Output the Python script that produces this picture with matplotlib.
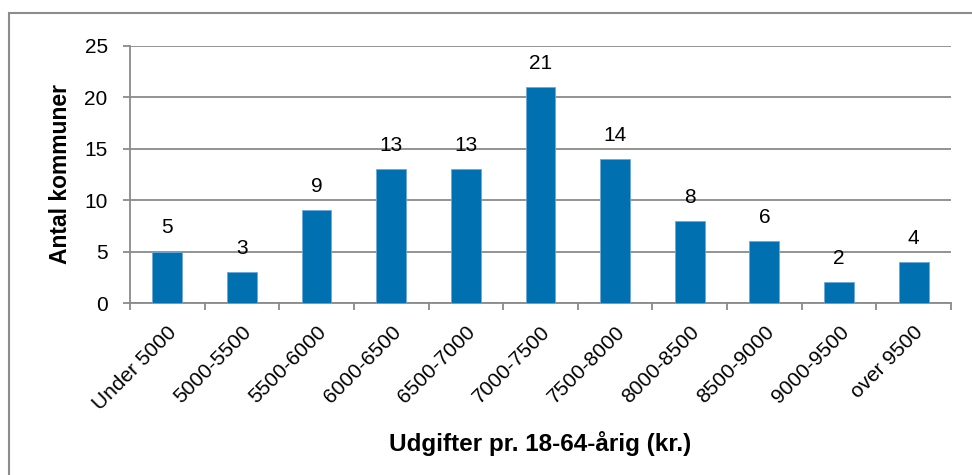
import matplotlib.pyplot as plt
from matplotlib.patches import Rectangle

plt.rcParams["font.family"] = ["Liberation Sans", "DejaVu Sans"]

# Number of municipalities per spending interval
categories = [
    "Under 5000", "5000-5500", "5500-6000", "6000-6500", "6500-7000",
    "7000-7500", "7500-8000", "8000-8500", "8500-9000", "9000-9500",
    "over 9500",
]
counts = [5, 3, 9, 13, 13, 21, 14, 8, 6, 2, 4]
y_ticks = [0, 5, 10, 15, 20, 25]

bar_color = "#0070B0"
grid_color = "#8A8A8A"

fig = plt.figure(figsize=(9.72, 4.75), dpi=100)
ax = fig.add_axes([0.1337, 0.3621, 0.9784 - 0.1337, 0.9032 - 0.3621])

x = list(range(len(categories)))
bars = ax.bar(x, counts, width=0.4, color=bar_color,
              edgecolor="#6FA8D6", linewidth=0.6, zorder=3)

for rect, val in zip(bars, counts):
    ax.annotate(str(val), (rect.get_x() + rect.get_width() / 2, val),
                xytext=(0, 17), textcoords="offset points",
                ha="center", va="center", fontsize=15)

ax.set_xlim(-0.5, len(categories) - 0.5)
ax.set_ylim(0, 25)
ax.set_yticks(y_ticks)
# tick marks sit between categories, labels at the bar centres
ax.set_xticks([i - 0.5 for i in range(len(categories) + 1)], minor=False)
ax.set_xticklabels([])
ax.set_xticks(x, minor=True)
ax.set_xticklabels(categories, minor=True, rotation=45, ha="right",
                   va="top", rotation_mode="anchor", fontsize=15)
ax.tick_params(axis="x", which="minor", length=0, pad=14)
ax.tick_params(axis="x", which="major", length=5, color=grid_color, width=1.3)
ax.tick_params(axis="y", length=5, color=grid_color, width=1.3,
               labelsize=15, pad=11)

ax.yaxis.grid(True, color=grid_color, linewidth=1.3, zorder=0)
for side in ("top", "right"):
    ax.spines[side].set_visible(False)
for side in ("left", "bottom"):
    ax.spines[side].set_color(grid_color)
    ax.spines[side].set_linewidth(1.3)

ax.set_ylabel("Antal kommuner", fontsize=16.5, fontweight="bold", labelpad=9)
ax.set_xlabel("Udgifter pr. 18-64-årig (kr.)", fontsize=17.5,
              fontweight="bold", labelpad=13)

# Chart area frame
fig.patches.append(Rectangle((9 / 972, -0.2), 1.2, 0.2 + 1 - 13 / 475,
                             transform=fig.transFigure, fill=False,
                             edgecolor="#8C8C8C", linewidth=1.5))

fig.savefig("out.png", dpi=100)
